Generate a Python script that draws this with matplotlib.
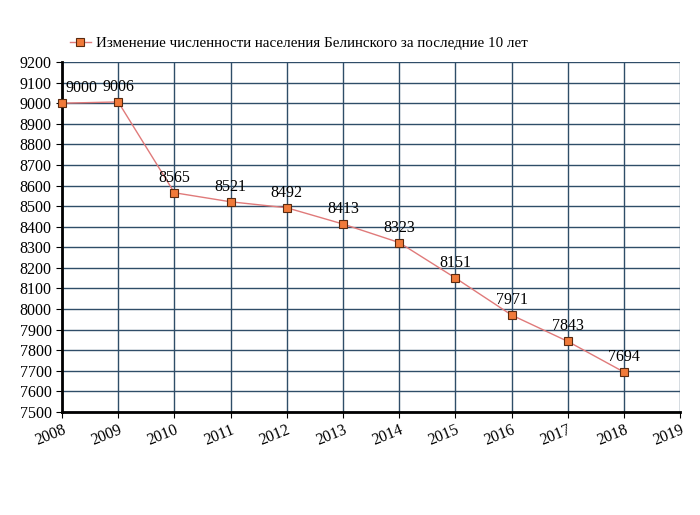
import matplotlib
matplotlib.use("Agg")
import matplotlib.pyplot as plt

years = [2008, 2009, 2010, 2011, 2012, 2013, 2014, 2015, 2016, 2017, 2018]
population = [9000, 9006, 8565, 8521, 8492, 8413, 8323, 8151, 7971, 7843, 7694]
title = "Изменение численности населения Белинского за последние 10 лет"

plt.rcParams['font.family'] = ['Liberation Serif', 'DejaVu Serif']

fig = plt.figure(figsize=(7, 5.15), dpi=100)
ax = fig.add_axes([0.0886, 0.2, 0.883, 0.6796])

grid_color = '#2f4d68'
ax.set_xlim(2008, 2019)
ax.set_ylim(7500, 9200)
ax.set_xticks(range(2008, 2020))
ax.set_yticks(range(7500, 9201, 100))
ax.grid(True, color=grid_color, linewidth=1.0)
ax.set_axisbelow(True)

for s in ['top', 'right']:
    ax.spines[s].set_visible(False)
for s in ['left', 'bottom']:
    ax.spines[s].set_linewidth(2)
    ax.spines[s].set_color('black')

line, = ax.plot(years, population, color='#e07a7a', linewidth=1,
                marker='s', markersize=6, markerfacecolor='#f07a3a',
                markeredgecolor='#5a2a10', markeredgewidth=0.8,
                label=title, clip_on=False, zorder=3)

for i, (x, y) in enumerate(zip(years, population)):
    dx = 14 if i == 0 else 0
    ax.annotate(str(y), (x, y), xytext=(dx, 5), textcoords='offset points',
                ha='center', va='bottom', fontsize=11.5)

ax.tick_params(axis='both', labelsize=11.5, length=4, color='black')
plt.setp(ax.get_xticklabels(), rotation=22, ha='right', rotation_mode='anchor')
ax.tick_params(axis='x', pad=3)

fig.legend(handles=[line], loc='upper left', bbox_to_anchor=(0.08, 0.955),
           frameon=False, fontsize=10.8, handlelength=1.4, handletextpad=0.4)

fig.savefig('out.png', dpi=100)
